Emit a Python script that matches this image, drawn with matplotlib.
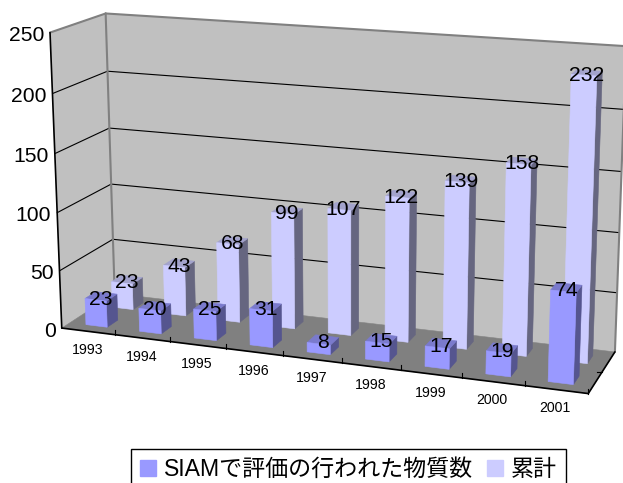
import matplotlib
matplotlib.use("Agg")
import matplotlib.pyplot as plt
from matplotlib.patches import Polygon, Patch
import numpy as np

plt.rcParams['font.family'] = ['Liberation Sans', 'Noto Sans CJK JP', 'DejaVu Sans']

years = ['1993', '1994', '1995', '1996', '1997', '1998', '1999', '2000', '2001']
siam_counts = [23, 20, 25, 31, 8, 15, 17, 19, 74]
cumulative = [23, 43, 68, 99, 107, 122, 139, 158, 232]
value_ticks = [0, 50, 100, 150, 200, 250]
series_names = ['SIAMで評価の行われた物質数', '累計']

n_cat = len(years)
v_max = value_ticks[-1]

# Where known corners of the 3D box land in the picture: (category, value, depth) -> pixel
anchors = [
    ((0, 0, 0), (61, 327)), ((n_cat, 0, 0), (588, 395)),
    ((n_cat, 0, 1), (615, 351)), ((0, 0, 1), (115, 295)),
    ((0, 50, 0), (59, 271)), ((0, 100, 0), (58, 212)),
    ((0, 150, 0), (55, 154)), ((0, 200, 0), (53, 94)),
    ((0, 250, 0), (50, 32)), ((0, 50, 1), (113, 240)),
    ((0, 100, 1), (112, 183)), ((0, 150, 1), (109, 128)),
    ((0, 200, 1), (107, 71)), ((0, 250, 1), (105, 14)),
    ((n_cat, 50, 1), (617, 292)), ((n_cat, 100, 1), (619, 232)),
    ((n_cat, 150, 1), (622, 172)), ((n_cat, 200, 1), (624, 110)),
    ((n_cat, 250, 1), (626, 46)),
]


def fit_camera(points):
    rows = []
    for (x, v, z), (u, w) in points:
        s = [x, v / 50.0, z, 1]
        rows.append(s + [0, 0, 0, 0] + [-u * a for a in s])
        rows.append([0, 0, 0, 0] + s + [-w * a for a in s])
    _, _, vt = np.linalg.svd(np.array(rows, dtype=float))
    return vt[-1].reshape(3, 4)


camera = fit_camera(anchors)


def proj(x, v, z):
    p = camera @ np.array([x, v / 50.0, z, 1.0])
    return p[0] / p[2], p[1] / p[2]


def quad(ax, corners, color, zorder, **kw):
    pts = [proj(*c) for c in corners]
    ax.add_patch(Polygon(pts, closed=True, facecolor=color, edgecolor=color,
                         linewidth=0.4, zorder=zorder, **kw))


def line3d(ax, a, b, color, lw, zorder=2):
    pa, pb = proj(*a), proj(*b)
    ax.plot([pa[0], pb[0]], [pa[1], pb[1]], color=color, lw=lw, zorder=zorder,
            solid_capstyle='round')


def draw_bar(ax, i, value, z0, z1, face, top, side, zorder):
    x0, x1 = i + 0.3, i + 0.7
    quad(ax, [(x1, 0, z0), (x1, 0, z1), (x1, value, z1), (x1, value, z0)], side, zorder)
    quad(ax, [(x0, value, z0), (x1, value, z0), (x1, value, z1), (x0, value, z1)], top, zorder)
    quad(ax, [(x0, 0, z0), (x1, 0, z0), (x1, value, z0), (x0, value, z0)], face, zorder)


fig = plt.figure(figsize=(6.23, 4.83), dpi=100)
ax = fig.add_axes([0, 0, 1, 1])
ax.set_xlim(0, 623)
ax.set_ylim(483, 0)
ax.axis('off')

# walls and floor
quad(ax, [(0, 0, 1), (n_cat, 0, 1), (n_cat, v_max, 1), (0, v_max, 1)], '#C0C0C0', 1)
quad(ax, [(0, 0, 0), (0, 0, 1), (0, v_max, 1), (0, v_max, 0)], '#C0C0C0', 1)
quad(ax, [(0, 0, 0), (n_cat, 0, 0), (n_cat, 0, 1), (0, 0, 1)], '#808080', 1)

# gridlines
for v in value_ticks[1:-1]:
    line3d(ax, (0, v, 0), (0, v, 1), 'black', 0.8)
    line3d(ax, (0, v, 1), (n_cat, v, 1), 'black', 0.8)

# wall edges
line3d(ax, (0, 0, 1), (0, v_max, 1), '#808080', 1.5)
line3d(ax, (0, v_max, 0), (0, v_max, 1), '#808080', 1.5)
line3d(ax, (0, v_max, 1), (n_cat, v_max, 1), '#808080', 1.5)
line3d(ax, (n_cat, 0, 1), (n_cat, v_max, 1), '#808080', 1.5)

# axis lines with ticks
line3d(ax, (0, 0, 0), (0, v_max, 0), 'black', 1.2)
line3d(ax, (0, 0, 0), (n_cat, 0, 0), 'black', 1.2)
line3d(ax, (n_cat, 0, 0), (n_cat, 0, 1), 'black', 1.2)
for i in range(1, n_cat + 1):
    px, py = proj(i, 0, 0)
    ax.plot([px, px], [py, py - 5], color='black', lw=0.8, zorder=2)
# the depth axis has one tick between the two rows
px, py = proj(n_cat, 0, 0.5)
ax.plot([px, px - 5], [py, py], color='black', lw=0.8, zorder=2)

# bars, back row first and left to right
for i, value in enumerate(cumulative):
    draw_bar(ax, i, value, 0.65, 0.85, '#CCCCFF', '#A3A3CC', '#666680', 3 + i * 0.01)
for i, value in enumerate(siam_counts):
    draw_bar(ax, i, value, 0.15, 0.35, '#9999FF', '#7A7ACC', '#55558F', 4 + i * 0.01)

# data labels
for values, z in ((cumulative, 0.75), (siam_counts, 0.25)):
    for i, value in enumerate(values):
        px, py = proj(i + 0.5, value, z)
        ax.text(px, py + 3, str(value), fontsize=15.2, ha='center', va='center', color='black', zorder=6)

# value and category labels
for v in value_ticks:
    px, py = proj(0, v, 0)
    ax.text(px - 6, py + 3, str(v), fontsize=15.2, ha='right', va='center', color='black')
for i, year in enumerate(years):
    px, py = proj(i + 0.5, 0, 0)
    ax.text(px - 1, py + 18.5, year, fontsize=10.2, ha='center', va='center', color='black')

handles = [Patch(facecolor='#9999FF', edgecolor='#9999FF'),
           Patch(facecolor='#CCCCFF', edgecolor='#CCCCFF')]
leg = ax.legend(handles, series_names, ncol=2, loc='upper left',
                bbox_to_anchor=(131, 449), bbox_transform=ax.transData,
                frameon=True, fancybox=False, edgecolor='black', framealpha=1,
                borderaxespad=0, fontsize=16.6, handlelength=0.67, handleheight=0.67,
                handletextpad=0.37, columnspacing=0.6, borderpad=0.4)
leg.get_frame().set_linewidth(1.0)

fig.savefig('out.png', dpi=100)
